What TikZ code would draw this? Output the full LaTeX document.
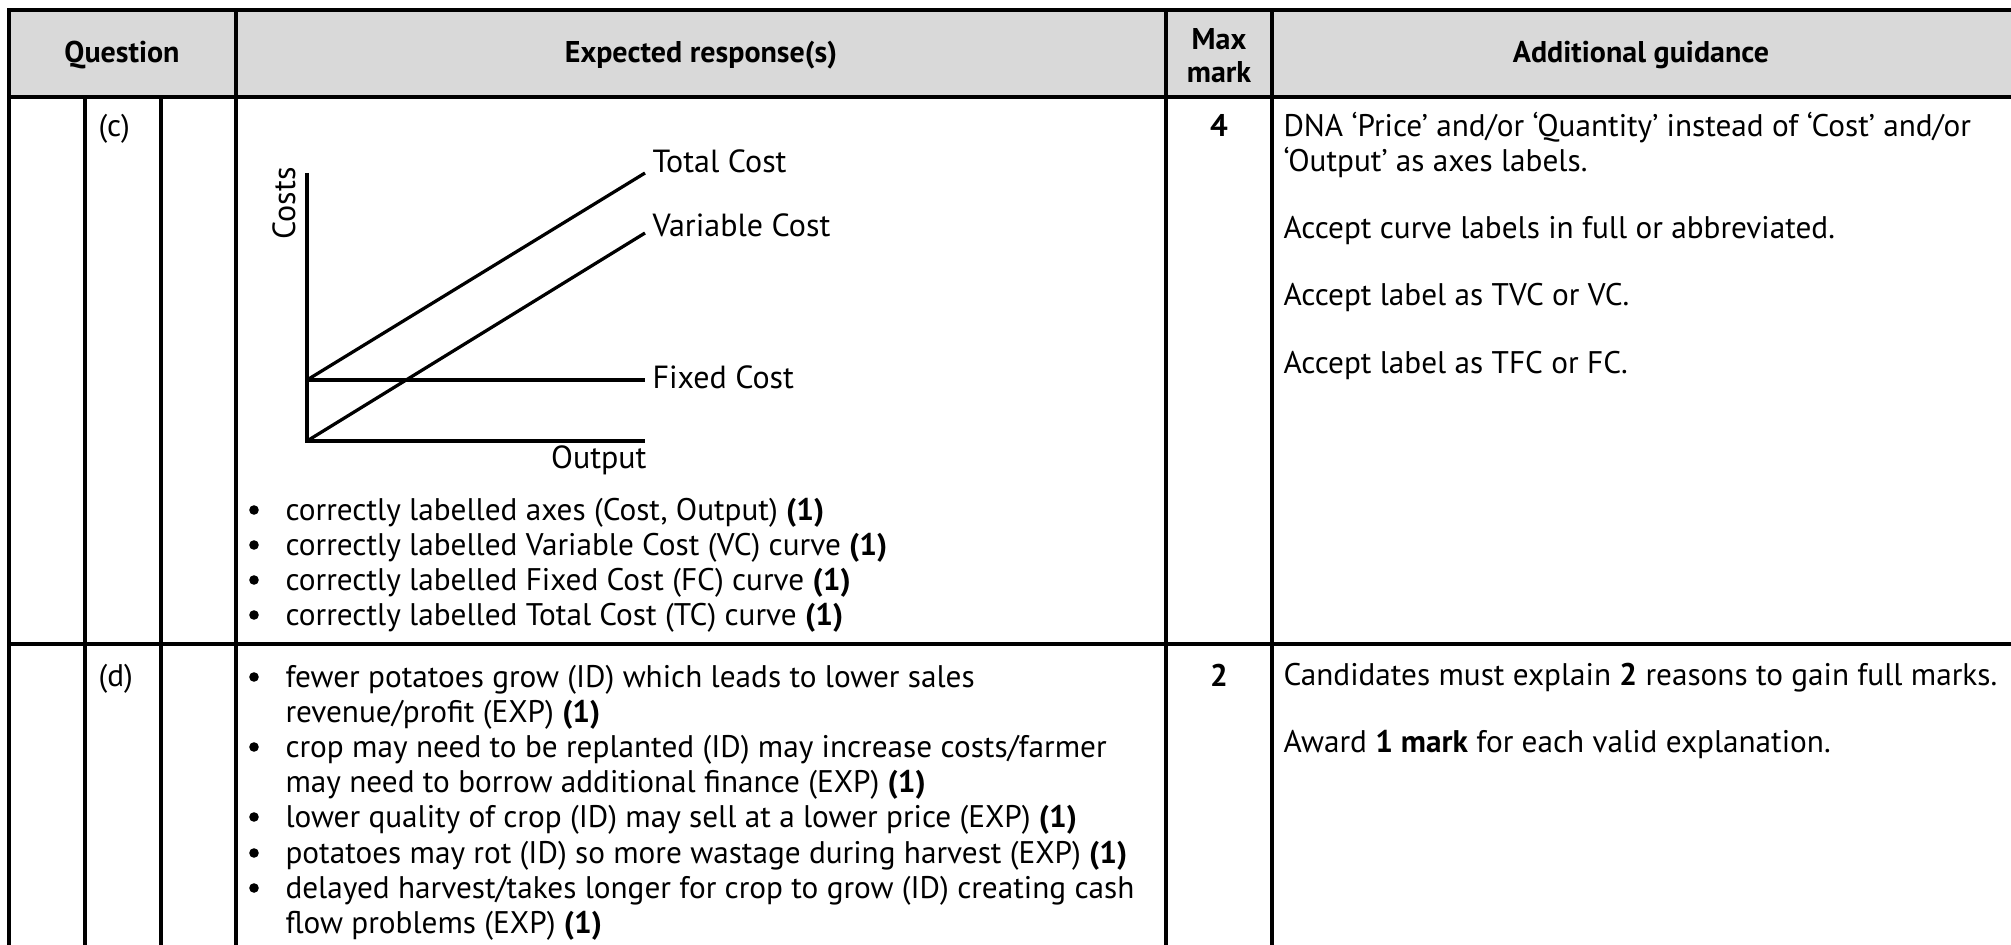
\documentclass[tikz,border=0pt]{standalone}
\usepackage{fontspec}
\setmainfont{PT Sans}
\usetikzlibrary{calc}
\definecolor{hdrgray}{HTML}{D9D9D9}
\newcommand{\bulat}[1]{\fill (254,#1-10) circle (4.8);}

\begin{document}
\begin{tikzpicture}[x=0.4pt, y=-0.4pt, line join=miter,
		font=\fontsize{12.5}{14}\selectfont,
		txt/.style={inner sep=0pt, anchor=base west},
		ctr/.style={inner sep=0pt, anchor=base},
		hd/.style={ctr, font=\fontsize{12}{14}\selectfont\bfseries},
		rule/.style={line width=1.25pt, line cap=rect},
		curve/.style={line width=1.3pt, line cap=butt},
		lbl/.style={inner sep=0pt, anchor=base west, font=\fontsize{12.8}{14}\selectfont}]
		
		\useasboundingbox (0,0) rectangle (2011,945);
		
		% ===== header row =====
		\fill[hdrgray] (9,10) rectangle (2011,97);
		\node[hd] (hq) at (122,63) {Question};
		\node[hd] (he) at (701,63) {Expected response(s)};
		\node[hd] (hm1) at (1219,50) {Max};
		\node[hd] (hm2) at (1219,83) {mark};
		\node[hd] (ha) at (1641,63) {Additional guidance};
		
		% ===== grid =====
		\draw[rule] (2011,10) -- (9,10) -- (9,945);
		\draw[rule] (9,97) -- (2011,97);
		\draw[rule] (9,644) -- (2011,644);
		\draw[rule] (85,97) -- (85,945);
		\draw[rule] (161,97) -- (161,945);
		\draw[rule] (236,10) -- (236,945);
		\draw[rule] (1166,10) -- (1166,945);
		\draw[rule] (1272,10) -- (1272,945);
		
		% ===== row (c) =====
		\node[txt] (qc) at (98,137) {(c)};
		\node[ctr] (mc) at (1219,137) {\textbf{4}};
		
		% cost graph
		\coordinate (O) at (307,441);
		\coordinate (Ytop) at (307,173);
		\coordinate (Xend) at (645,441);
		\coordinate (F0) at (307,380);
		\coordinate (F1) at (645,380);
		\coordinate (T1) at (645,173);
		\coordinate (V1) at (645,233);
		\draw[curve] (Ytop) -- (O) -- (Xend);
		\draw[curve] (F0) -- (F1);
		\draw[curve] (F0) -- (T1);
		\draw[curve] (O) -- (V1);
		\node[lbl] (tc) at (652,173) {Total Cost};
		\node[lbl] (vc) at (652,237) {Variable Cost};
		\node[lbl] (fc) at (652,388) {Fixed Cost};
		\node[lbl, anchor=base east] (out) at (647,468) {Output};
		\node[lbl, rotate=90] (costs) at (295,240) {Costs};
		
		% marking points
		\bulat{520} \node[txt] (c1) at (285,520) {correctly labelled axes (Cost, Output) \textbf{(1)}};
		\bulat{555} \node[txt] (c2) at (285,555) {correctly labelled Variable Cost (VC) curve \textbf{(1)}};
		\bulat{590} \node[txt] (c3) at (285,590) {correctly labelled Fixed Cost (FC) curve \textbf{(1)}};
		\bulat{625} \node[txt] (c4) at (285,625) {correctly labelled Total Cost (TC) curve \textbf{(1)}};
		
		% guidance
		\node[txt] (gc1) at (1283,137) {DNA ‘Price’ and/or ‘Quantity’ instead of ‘Cost’ and/or};
		\node[txt] (gc2) at (1283,172) {‘Output’ as axes labels.};
		\node[txt] (gc3) at (1283,239) {Accept curve labels in full or abbreviated.};
		\node[txt] (gc4) at (1283,306) {Accept label as TVC or VC.};
		\node[txt] (gc5) at (1283,373) {Accept label as TFC or FC.};
		
		% ===== row (d) =====
		\node[txt] (qd) at (98,686) {(d)};
		\node[ctr] (md) at (1219,686) {\textbf{2}};
		
		\bulat{687} \node[txt] (d1) at (285,687) {fewer potatoes grow (ID) which leads to lower sales};
		\node[txt] (d1b) at (285,722) {revenue/profit (EXP) \textbf{(1)}};
		\bulat{757} \node[txt] (d2) at (285,757) {crop may need to be replanted (ID) may increase costs/farmer};
		\node[txt] (d2b) at (285,792) {may need to borrow additional finance (EXP) \textbf{(1)}};
		\bulat{827} \node[txt] (d3) at (285,827) {lower quality of crop (ID) may sell at a lower price (EXP) \textbf{(1)}};
		\bulat{863} \node[txt] (d4) at (285,863) {potatoes may rot (ID) so more wastage during harvest (EXP) \textbf{(1)}};
		\bulat{898} \node[txt] (d5) at (285,898) {delayed harvest/takes longer for crop to grow (ID) creating cash};
		\node[txt] (d5b) at (285,933) {flow problems (EXP) \textbf{(1)}};
		
		\node[txt] (gd1) at (1283,685) {Candidates must explain \textbf{2} reasons to gain full marks.};
		\node[txt] (gd2) at (1283,752) {Award \textbf{1 mark} for each valid explanation.};
		
	\end{tikzpicture}
\end{document}
